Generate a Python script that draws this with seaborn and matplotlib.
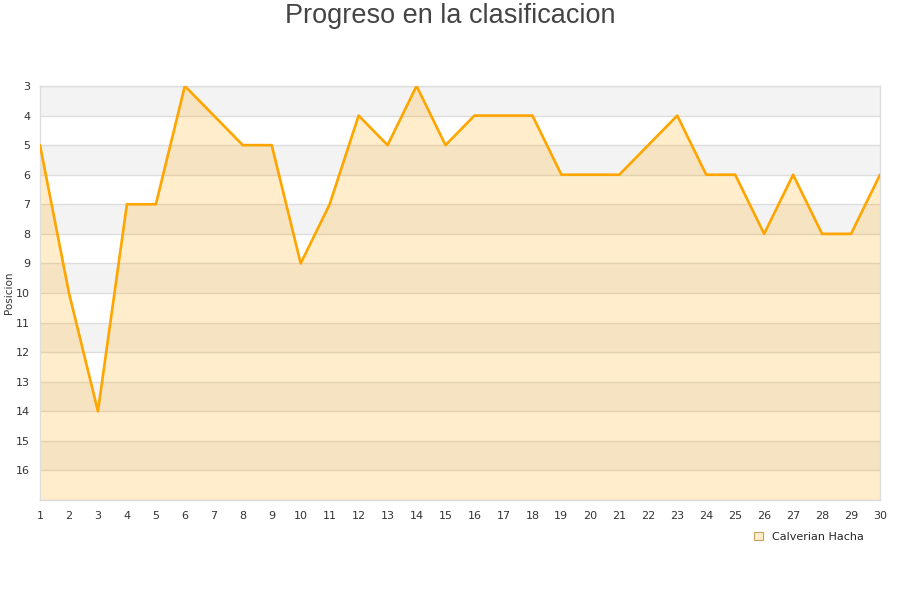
import matplotlib
matplotlib.use("Agg")
import matplotlib.pyplot as plt
import seaborn as sns
import pandas as pd
from matplotlib.patches import Patch

# Data
jornadas = list(range(1, 31))
posiciones = [5, 10, 14, 7, 7, 3, 4, 5, 5, 9, 7, 4, 5, 3, 5,
              4, 4, 4, 6, 6, 6, 5, 4, 6, 6, 8, 6, 8, 8, 6]
equipo = "Calverian Hacha"
y_ticks = list(range(3, 17))

df = pd.DataFrame({"Jornada": jornadas, "Posicion": posiciones})

sns.set_style("white")
plt.rcParams['font.family'] = ['DejaVu Sans']

fig = plt.figure(figsize=(9, 6), dpi=100)
ax = fig.add_axes([40 / 900, 100 / 600, 840 / 900, 414 / 600])

# Alternating horizontal bands
for y in range(3, 17, 2):
    ax.axhspan(y, y + 1, color='#f3f3f3', lw=0, zorder=0)
for y in range(3, 18):
    ax.axhline(y, color='#dddddd', lw=1, zorder=1)

# Area under the line down to the bottom of the axis
ax.fill_between(df["Jornada"], df["Posicion"], 17, color='#ffa500', alpha=0.2, lw=0, zorder=2)
sns.lineplot(data=df, x="Jornada", y="Posicion", color='#ffa500', lw=1.9, ax=ax, zorder=3)

ax.set_xlim(1, 30)
ax.set_ylim(17, 3)
ax.set_xticks(jornadas)
ax.set_yticks(y_ticks)
ax.tick_params(axis='both', length=0, labelsize=8, labelcolor='#333333')
ax.tick_params(axis='y', pad=7)
ax.tick_params(axis='x', pad=8)
ax.set_xlabel("")
ax.set_ylabel("")
for s in ax.spines.values():
    s.set_color('#dddddd')
    s.set_linewidth(1)

fig.text(9 / 900, 1 - 293 / 600, "Posicion", rotation=90, fontsize=7.5,
         color='#333333', ha='center', va='center')

fig.suptitle("Progreso en la clasificacion", x=0.5, y=1 - 16 / 600, va='center',
             fontsize=19.5, color='#444444', family='Liberation Sans')

handle = Patch(facecolor='#ffeecc', edgecolor='#c8a060', lw=0.8)
fig.legend([handle], [equipo], loc='center left', bbox_to_anchor=(754 / 900, 1 - 537 / 600),
           frameon=False, fontsize=8, handlelength=0.8, handleheight=0.8, handletextpad=0.8,
           borderaxespad=0, borderpad=0)

plt.savefig("out.png", dpi=100)
plt.close()
